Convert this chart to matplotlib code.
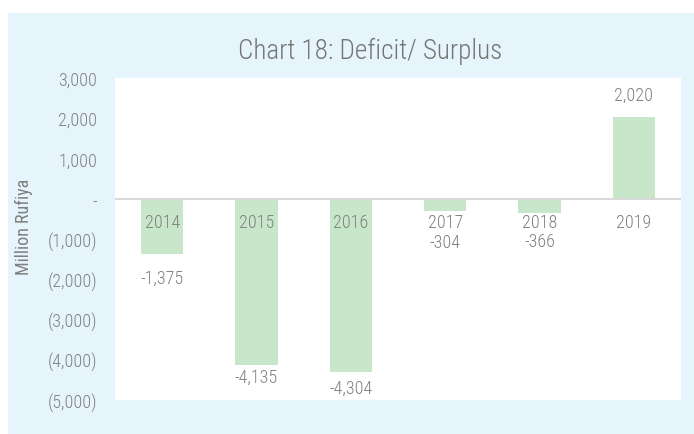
import matplotlib.pyplot as plt
from matplotlib.patches import Rectangle

plt.rcParams['font.family'] = ['Roboto Condensed', 'Liberation Sans Narrow', 'Roboto', 'DejaVu Sans']
plt.rcParams['font.weight'] = 'light'

years = ['2014', '2015', '2016', '2017', '2018', '2019']
balance = [-1375, -4135, -4304, -304, -366, 2020]
value_text = ['-1,375', '-4,135', '-4,304', '-304', '-366', '2,020']
yticks = [3000, 2000, 1000, 0, -1000, -2000, -3000, -4000, -5000]
ytick_text = ['3,000', '2,000', '1,000', '-', '(1,000)', '(2,000)', '(3,000)', '(4,000)', '(5,000)']

# gap (points) between bar end and its value label
label_pad = [17, 8.5, 11.5, 22, 20, 16]

grey = '#7f7f7f'
W, H = 694, 435

fig = plt.figure(figsize=(W / 100, H / 100), dpi=100, facecolor='white')
fig.patches.append(Rectangle((8 / W, 0), 1, 1 - 14 / H, transform=fig.transFigure,
                             facecolor='#e6f4fc', edgecolor='none', zorder=-10))

ax = fig.add_axes([115 / W, 34 / H, 566 / W, 322 / H])
ax.set_facecolor('white')

x = list(range(len(years)))
ax.bar(x, balance, width=0.45, color='#c8e6c9', zorder=2)
ax.axhline(0, color='#d9d9d9', lw=1.5, zorder=3)

ax.set_xlim(-0.5, len(years) - 0.5)
ax.set_ylim(-5000, 3000)
ax.set_yticks(yticks)
ax.set_yticklabels(ytick_text)
ax.set_xticks([])
ax.tick_params(axis='y', length=0, pad=13, labelsize=13, labelcolor=grey)
for s in ax.spines.values():
    s.set_visible(False)

# category names sit just under the zero line
for i, yr in enumerate(years):
    ax.annotate(yr, (i, 0), xytext=(0, -16.5), textcoords='offset points',
                ha='center', va='center', fontsize=13, color=grey, zorder=4)

for i, (v, t) in enumerate(zip(balance, value_text)):
    off = label_pad[i] if v > 0 else -label_pad[i]
    ax.annotate(t, (i, v), xytext=(0, off), textcoords='offset points',
                ha='center', va='center', fontsize=13, color=grey, zorder=4)

ax.set_ylabel('Million Rufiya', fontsize=13, color=grey, fontweight='normal')
ax.yaxis.set_label_coords(-82 / 566, 0.54)

fig.text(370 / W, 1 - 51 / H, 'Chart 18: Deficit/ Surplus', ha='center', va='center',
         fontsize=19.5, color='#757575')

fig.savefig('out.png', dpi=100, facecolor=fig.get_facecolor())
